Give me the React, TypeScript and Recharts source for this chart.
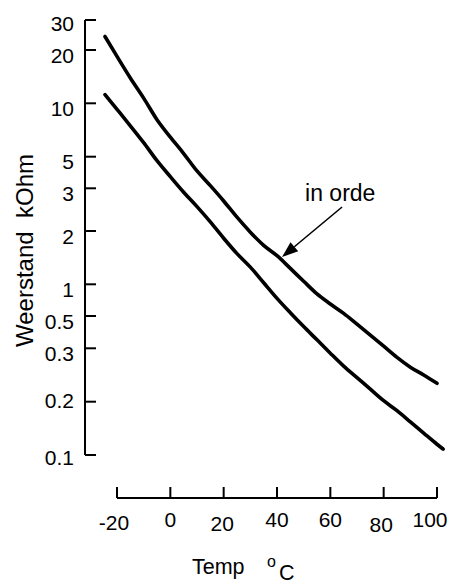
import React from "react";
import { LineChart, Line, XAxis, YAxis, ReferenceLine } from "recharts";

// Temperatures (°C) at which both curves were read
const TEMPS = [-24.5, -20, -15, -10, -5, 0, 5, 10, 15, 20, 25, 30, 35, 40, 45, 50, 55, 60, 65, 70, 75, 80, 85, 90, 95, 100, 102.3];

// Resistance in kOhm, upper curve ("in orde")
const UPPER_KOHM = [24.0, 18.4, 13.9, 10.7, 8.08, 6.45, 5.21, 3.97, 3.13, 2.66, 2.28, 1.97, 1.66, 1.45, 1.23, 1.04, 0.81, 0.65, 0.53, 0.44, 0.37, 0.31, 0.28, 0.26, 0.245, 0.23, null];

// Resistance in kOhm, lower curve
const LOWER_KOHM = [11.2, 9.25, 7.47, 6.0, 4.69, 3.62, 2.89, 2.52, 2.18, 1.82, 1.49, 1.25, 1.02, 0.735, 0.537, 0.423, 0.343, 0.289, 0.262, 0.24, 0.22, 0.2015, 0.178, 0.154, 0.133, 0.115, 0.108];

const X_TICKS = [-20, 0, 20, 40, 60, 80, 100];

// The hand drawn resistance axis is not a true log scale: each labelled value
// sits on its own graduation, values in between are log-interpolated.
const Y_TICK_VALUES = [0.1, 0.2, 0.3, 0.5, 1, 2, 3, 5, 10, 20, 30];
const Y_TICK_LABELS = ["0.1", "0.2", "0.3", "0.5", "1", "2", "3", "5", "10", "20", "30"];
const Y_GRADUATION = [0, 53.3, 106.7, 139, 170.7, 224, 266.7, 298.3, 351.7, 405, 435];

const FONT = "'Liberation Sans', Arial, Helvetica, sans-serif";

function toGraduation(v: number): number {
  let i = 0;
  while (i < Y_TICK_VALUES.length - 2 && v > Y_TICK_VALUES[i + 1]) i++;
  const v0 = Y_TICK_VALUES[i];
  const v1 = Y_TICK_VALUES[i + 1];
  const f = Math.log(v / v0) / Math.log(v1 / v0);
  return Y_GRADUATION[i] + f * (Y_GRADUATION[i + 1] - Y_GRADUATION[i]);
}

const chartData = TEMPS.map((t, i) => ({
  temp: t,
  upper: UPPER_KOHM[i] == null ? null : toGraduation(UPPER_KOHM[i] as number),
  lower: toGraduation(LOWER_KOHM[i]),
}));

// small hand-lettering offsets of the x labels
const X_NUDGE: Record<number, [number, number]> = {
  [-20]: [-3, 3],
  20: [-1.5, 4],
  80: [-2.5, 5],
  100: [-7, 0],
};
const Y_NUDGE: Record<string, number> = { "30": -2, "0.2": -6, "0.1": -2.5 };

function XTick(props: any) {
  const { x, y, payload } = props;
  const [dx, dy] = X_NUDGE[payload.value] ?? [0, 0];
  return (
    <g>
      <line x1={x} y1={y} x2={x} y2={y - 11} stroke="#000" strokeWidth={2} />
      <text x={x + dx} y={y + 29 + dy} textAnchor="middle" fontSize={21} fontFamily={FONT} fill="#000">
        {payload.value}
      </text>
    </g>
  );
}

function YTick(props: any) {
  const { x, y, payload } = props;
  const idx = Y_GRADUATION.indexOf(payload.value);
  const label = Y_TICK_LABELS[idx] ?? "";
  const dy = Y_NUDGE[label] ?? 0;
  return (
    <g>
      <line x1={x} y1={y} x2={x + 11} y2={y} stroke="#000" strokeWidth={2} />
      <text x={x - 11} y={y + 12.5 + dy} textAnchor="end" fontSize={21} fontFamily={FONT} fill="#000">
        {label}
      </text>
    </g>
  );
}

function XTitle(props: any) {
  const vb = props.viewBox;
  const x0 = vb.x + 107;
  const base = vb.y + 76;
  return (
    <g fontFamily={FONT} fill="#000">
      <text x={x0} y={base} fontSize={21.5}>Temp</text>
      <text x={x0 + 75} y={base - 7} fontSize={16}>o</text>
      <text x={x0 + 87} y={base + 6} fontSize={21.5}>C</text>
    </g>
  );
}

function YTitle(props: any) {
  const vb = props.viewBox;
  const cx = vb.x + 33;
  const cy = 250.5;
  return (
    <text
      x={cx}
      y={cy}
      transform={`rotate(-90, ${cx}, ${cy})`}
      textAnchor="middle"
      fontSize={24}
      fontFamily={FONT}
      fill="#000"
      style={{ whiteSpace: "pre" }}
    >
      {"Weerstand  kOhm"}
    </text>
  );
}

function ArrowNote(props: any) {
  const { x1, y1, x2, y2 } = props;
  const ang = Math.atan2(y2 - y1, x2 - x1);
  const len = 16;
  const half = 6;
  const bx = x2 - len * Math.cos(ang);
  const by = y2 - len * Math.sin(ang);
  const px = -Math.sin(ang) * half;
  const py = Math.cos(ang) * half;
  return (
    <g>
      <line x1={x1} y1={y1} x2={bx} y2={by} stroke="#000" strokeWidth={1.6} />
      <polygon points={`${x2},${y2} ${bx + px},${by + py} ${bx - px},${by - py}`} fill="#000" />
      <text x={x1 - 37} y={y1 - 6} fontSize={23} fontFamily={FONT} fill="#000">
        in orde
      </text>
    </g>
  );
}

export default function App() {
  return (
    <div style={{ position: "absolute", left: 0, top: 0, background: "#fff" }}>
      <LineChart width={457} height={587} data={chartData} margin={{ top: 20, right: 12, bottom: 0, left: 0 }}>
        <XAxis
          dataKey="temp"
          type="number"
          domain={[-32, 103]}
          ticks={X_TICKS}
          interval={0}
          axisLine={false}
          tickLine={false}
          tickSize={0}
          tickMargin={0}
          height={89}
          tick={(p: any) => <XTick {...p} />}
          label={(p: any) => <XTitle {...p} />}
        />
        <YAxis
          type="number"
          domain={[-43, 435]}
          ticks={Y_GRADUATION}
          interval={0}
          axisLine={false}
          tickLine={false}
          tickSize={0}
          tickMargin={0}
          width={85}
          tick={(p: any) => <YTick {...p} />}
          label={(p: any) => <YTitle {...p} />}
        />
        {/* axis lines drawn detached, as in the original sketch */}
        <ReferenceLine segment={[{ x: -32, y: 0 }, { x: -32, y: 435 }]} stroke="#000" strokeWidth={2} />
        <ReferenceLine segment={[{ x: -20, y: -43 }, { x: 100, y: -43 }]} stroke="#000" strokeWidth={2} />
        <Line
          dataKey="upper"
          type="monotone"
          stroke="#000"
          strokeWidth={3.6}
          strokeLinecap="round"
          dot={false}
          activeDot={false}
          isAnimationActive={false}
        />
        <Line
          dataKey="lower"
          type="monotone"
          stroke="#000"
          strokeWidth={3.6}
          strokeLinecap="round"
          dot={false}
          activeDot={false}
          isAnimationActive={false}
        />
        <ReferenceLine
          segment={[{ x: 64.4, y: 248 }, { x: 41.9, y: 198 }]}
          shape={(p: any) => <ArrowNote {...p} />}
        />
      </LineChart>
    </div>
  );
}
